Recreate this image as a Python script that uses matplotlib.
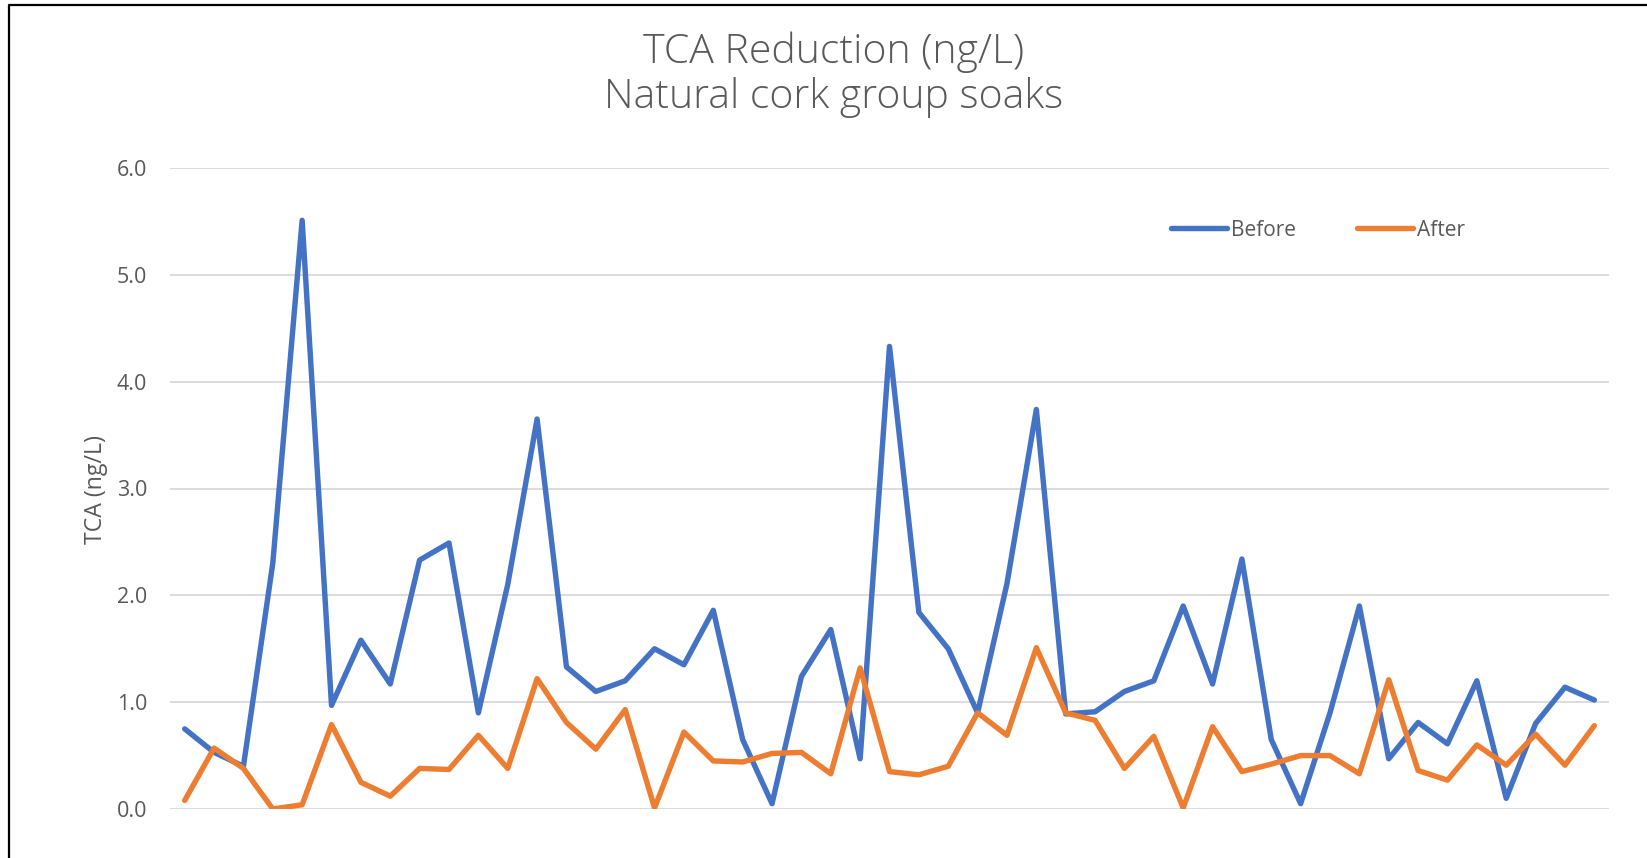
import matplotlib
matplotlib.use("Agg")
import matplotlib.pyplot as plt
from matplotlib.lines import Line2D

# ---- data ----
samples = list(range(1, 50))
before = [0.75, 0.53, 0.40, 2.30, 5.51, 0.97, 1.58, 1.17, 2.33, 2.49,
          0.90, 2.10, 3.65, 1.33, 1.10, 1.20, 1.50, 1.35, 1.86, 0.65,
          0.05, 1.24, 1.68, 0.47, 4.33, 1.84, 1.50, 0.90, 2.11, 3.74,
          0.89, 0.91, 1.10, 1.20, 1.90, 1.17, 2.34, 0.65, 0.05, 0.90,
          1.90, 0.47, 0.81, 0.61, 1.20, 0.10, 0.80, 1.14, 1.02]
after = [0.08, 0.57, 0.38, 0.00, 0.04, 0.79, 0.25, 0.12, 0.38, 0.37,
         0.69, 0.38, 1.22, 0.81, 0.56, 0.93, 0.01, 0.72, 0.45, 0.44,
         0.52, 0.53, 0.33, 1.32, 0.35, 0.32, 0.40, 0.90, 0.69, 1.51,
         0.90, 0.83, 0.38, 0.68, 0.01, 0.77, 0.35, 0.42, 0.50, 0.50,
         0.33, 1.21, 0.36, 0.27, 0.60, 0.41, 0.70, 0.41, 0.78]
yticks = [0.0, 1.0, 2.0, 3.0, 4.0, 5.0, 6.0]
ytick_labels = ["0.0", "1.0", "2.0", "3.0", "4.0", "5.0", "6.0"]
series_names = ["Before", "After"]

BLUE = "#4472C4"
ORANGE = "#ED7D31"
GRAY = "#595959"

plt.rcParams['font.family'] = ['Open Sans', 'DejaVu Sans']

W, H = 1647, 858
fig = plt.figure(figsize=(W / 100, H / 100), dpi=100)
fig.patch.set_facecolor("white")

ax = fig.add_axes([170 / W, 1 - 809 / H, (1609 - 170) / W, (809 - 168) / H])
ax.plot(samples, before, color=BLUE, lw=3.9, solid_joinstyle='round',
        solid_capstyle='round', label=series_names[0], zorder=3)
ax.plot(samples, after, color=ORANGE, lw=3.9, solid_joinstyle='round',
        solid_capstyle='round', label=series_names[1], zorder=3)

ax.set_xlim(0.5, len(samples) + 0.5)
ax.set_ylim(0, 6)
ax.set_yticks(yticks)
ax.set_yticklabels(ytick_labels)
ax.set_xticks([])
ax.grid(axis='y', color="#D9D9D9", lw=1.3, zorder=0)
ax.set_axisbelow(True)
for s in ax.spines.values():
    s.set_visible(False)
ax.tick_params(axis='y', length=0, pad=16.5, labelsize=15.5, labelcolor=GRAY)

fig.text(96 / W, 1 - 489 / H, "TCA (ng/L)", rotation=90, ha='center', va='center',
         fontsize=16.7, color=GRAY)

fig.text(834 / W, 1 - 52 / H, "TCA Reduction (ng/L)", ha='center', va='center',
         fontsize=29.5, color=GRAY, fontweight='light')
fig.text(834 / W, 1 - 98 / H, "Natural cork group soaks", ha='center', va='center',
         fontsize=29.5, color=GRAY, fontweight='light')

leg = fig.legend(loc='center', bbox_to_anchor=(1318 / W, 1 - 230 / H), ncol=2,
                 frameon=False, fontsize=15, handlelength=2.7, handletextpad=0.2,
                 columnspacing=2.9, labelcolor=GRAY)

# outer border (top and left visible)
fig.add_artist(Line2D([8.5 / W, 8.5 / W, 1.0], [0.0, 1 - 5 / H, 1 - 5 / H],
                      transform=fig.transFigure, color="black", lw=1.6))

fig.savefig("out.png", dpi=100, facecolor="white")
